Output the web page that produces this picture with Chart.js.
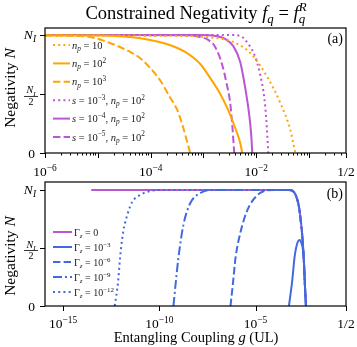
<!DOCTYPE html>
<html><head><meta charset="utf-8">
<script src="https://cdn.jsdelivr.net/npm/chart.js@4"></script>
<style>
html,body{margin:0;padding:0;background:#fff;}
#wrap{position:relative;width:357px;height:347px;overflow:hidden;}
canvas{position:absolute;left:0;}
#ca{top:0;} #cb{top:176px;}
</style></head><body>
<div id="wrap"><canvas id="ca" width="357" height="180"></canvas><canvas id="cb" width="357" height="171"></canvas></div>
<script>
// ---------- Panel (a) data: coupling g and negativity N (units of N_I) ----------
const gA_np10   = [1e-6, 3.6e-4, 1.34e-3, 3.66e-3, 7.69e-3, 1.62e-2, 2.85e-2, 4.41e-2, 5.49e-2];
const NA_np10   = [0.996, 0.992, 0.979, 0.941, 0.847, 0.644, 0.424, 0.195, 0];
const gA_np100  = [1e-6, 1.1e-5, 4.1e-5, 9.8e-5, 2.3e-4, 4.5e-4, 8.7e-4, 1.34e-3, 2.08e-3, 2.94e-3, 4.0e-3, 4.97e-3, 5.43e-3];
const NA_np100  = [0.996, 0.996, 0.983, 0.958, 0.915, 0.856, 0.754, 0.636, 0.500, 0.364, 0.212, 0.085, 0];
const gA_np1000 = [1e-6, 3.0e-6, 7.1e-6, 1.7e-5, 4.1e-5, 6.3e-5, 9.8e-5, 1.5e-4, 2.3e-4, 3.2e-4, 4.0e-4, 4.7e-4, 5.6e-4];
const NA_np1000 = [0.996, 0.994, 0.983, 0.932, 0.856, 0.805, 0.720, 0.619, 0.475, 0.364, 0.237, 0.127, 0];
const gA_s3 = [1e-6, 3.21e-3, 4.97e-3, 7.05e-3, 9.57e-3, 1.19e-2, 1.42e-2, 1.55e-2, 1.69e-2];
const NA_s3 = [1, 1, 0.992, 0.924, 0.814, 0.661, 0.466, 0.280, 0];
const gA_s4 = [1e-6, 8.7e-4, 1.67e-3, 2.58e-3, 3.66e-3, 4.97e-3, 6.18e-3, 7.36e-3, 8.03e-3, 8.39e-3];
const NA_s4 = [1, 1, 0.992, 0.966, 0.907, 0.771, 0.551, 0.322, 0.153, 0];
const gA_s5 = [1e-6, 5.6e-4, 8.7e-4, 1.23e-3, 1.67e-3, 2.27e-3, 2.70e-3, 3.21e-3, 3.51e-3, 3.83e-3];
const NA_s5 = [1, 0.996, 0.983, 0.958, 0.898, 0.746, 0.602, 0.424, 0.237, 0];

// ---------- Panel (b) data ----------
const gB_G0  = [2.9e-14, 5.5e-4, 8.1e-4, 1.21e-3, 1.80e-3, 2.21e-3, 2.70e-3, 3.28e-3, 3.70e-3, 4.17e-3];
const NB_G0  = [1, 1, 0.994, 0.957, 0.856, 0.741, 0.597, 0.371, 0.166, 0];
const gB_G3  = [5.42e-4, 8.1e-4, 1.07e-3, 1.49e-3, 1.96e-3, 2.40e-3, 2.91e-3, 3.28e-3, 3.70e-3, 4.17e-3];
const NB_G3  = [0, 0.224, 0.425, 0.543, 0.569, 0.543, 0.483, 0.371, 0.166, 0];
const gB_G6  = [5.0e-7, 6.8e-7, 9.1e-7, 1.66e-6, 3.8e-6, 1.27e-5, 8.7e-5, 5.5e-4, 8.1e-4, 1.21e-3, 1.80e-3, 2.21e-3, 2.70e-3, 3.28e-3, 3.70e-3, 4.17e-3];
const NB_G6  = [0, 0.207, 0.414, 0.638, 0.828, 0.957, 1, 1, 0.994, 0.957, 0.856, 0.741, 0.597, 0.371, 0.166, 0];
const gB_G9  = [5.4e-10, 7.2e-10, 9.8e-10, 1.78e-9, 4.1e-9, 1.36e-8, 4.5e-8, 5.5e-4, 8.1e-4, 1.21e-3, 1.80e-3, 2.21e-3, 2.70e-3, 3.28e-3, 3.70e-3, 4.17e-3];
const NB_G9  = [0, 0.207, 0.414, 0.698, 0.888, 0.974, 1, 1, 0.994, 0.957, 0.856, 0.741, 0.597, 0.371, 0.166, 0];
const gB_G12 = [4.8e-13, 7.2e-13, 9.1e-13, 1.33e-12, 2.15e-12, 3.9e-12, 1.02e-11, 3.4e-11, 1.6e-10, 5.5e-4, 8.1e-4, 1.21e-3, 1.80e-3, 2.21e-3, 2.70e-3, 3.28e-3, 3.70e-3, 4.17e-3];
const NB_G12 = [0, 0.207, 0.414, 0.638, 0.784, 0.897, 0.957, 0.991, 1, 1, 0.994, 0.957, 0.856, 0.741, 0.597, 0.371, 0.166, 0];

// ---------- tick labels ----------
const xTicksA = [[1e-6, '10', '−6'], [1e-4, '10', '−4'], [1e-2, '10', '−2'], [0.5, '1/2', '']];
const xTicksB = [[1e-15, '10', '−15'], [1e-10, '10', '−10'], [1e-5, '10', '−5'], [0.5, '1/2', '']];

const ORANGE = '#FFA500', MAG = '#BA55D3', BLUE = '#4169E1';
const FAM = '"Liberation Serif","Times New Roman",serif';

function pts(g, n) { return g.map((v, i) => ({x: v, y: n[i]})); }

function rich(ctx, parts, x, y, size, align) {
  const f = p => (p.i ? 'italic ' : '') + (p.s ? (size * 0.7).toFixed(1) : size) + 'px ' + FAM;
  const ws = []; let w = 0;
  for (const p of parts) {
    ctx.font = f(p); let pw = ctx.measureText(p.t).width;
    if (p.st) { ctx.font = f({i: p.sti, s: 'sup'}); pw = Math.max(pw, ctx.measureText(p.st).width); }
    ws.push(pw); w += pw;
  }
  let cx = align === 'center' ? x - w / 2 : align === 'right' ? x - w : x;
  ctx.textAlign = 'left'; ctx.textBaseline = 'alphabetic';
  parts.forEach((p, k) => {
    ctx.font = f(p);
    const dy = p.s === 'sup' ? -size * 0.4 : p.s === 'sub' ? size * 0.22 : 0;
    ctx.fillText(p.t, cx, y + dy);
    if (p.st) { ctx.font = f({i: p.sti, s: 'sup'}); ctx.fillText(p.st, cx, y - size * 0.42); }
    cx += ws[k];
  });
  return w;
}

function frameAndTicks(chart, xTicks, minors, opts) {
  const ctx = chart.ctx, a = chart.chartArea, xs = chart.scales.x, ys = chart.scales.y;
  ctx.save();
  ctx.strokeStyle = '#000'; ctx.lineWidth = 1.2; ctx.setLineDash([]);
  ctx.strokeRect(a.left, a.top, a.right - a.left, a.bottom - a.top);
  ctx.lineWidth = 1;
  ctx.beginPath();
  for (const v of opts.majors) { const px = Math.round(xs.getPixelForValue(v)) + 0.5; ctx.moveTo(px, a.bottom); ctx.lineTo(px, a.bottom + 5); }
  for (const v of minors) { const px = Math.round(xs.getPixelForValue(v)) + 0.5; ctx.moveTo(px, a.bottom); ctx.lineTo(px, a.bottom + 2.5); }
  for (const v of [0, 0.5, 1]) { const py = Math.round(ys.getPixelForValue(v)) + 0.5; ctx.moveTo(a.left, py); ctx.lineTo(a.left - 5, py); }
  ctx.stroke();
  ctx.fillStyle = '#000';
  for (const [v, base, ex] of xTicks) {
    const px = xs.getPixelForValue(v);
    if (ex) rich(ctx, [{t: base}, {t: ex, s: 'sup'}], px, a.bottom + opts.xlabOff, 13.5, 'center');
    else rich(ctx, [{t: base}], px, a.bottom + opts.xlabOff, 13.5, 'center');
  }
  const y1 = ys.getPixelForValue(1), yh = ys.getPixelForValue(0.5), y0 = ys.getPixelForValue(0);
  rich(ctx, [{t: 'N', i: 1}, {t: 'I', i: 1, s: 'sub'}], 36, y1 + 4, 13.5, 'right');
  rich(ctx, [{t: '0'}], 35, y0 + 4.5, 13.5, 'right');
  rich(ctx, [{t: 'N', i: 1}, {t: 'I', i: 1, s: 'sub'}], 31, yh - 0.5, 10, 'center');
  ctx.beginPath(); ctx.moveTo(24, yh + 2.5); ctx.lineTo(38, yh + 2.5); ctx.lineWidth = 0.8; ctx.stroke();
  rich(ctx, [{t: '2'}], 31, yh + 11, 10, 'center');
  ctx.save(); ctx.translate(15, opts.yTitleC); ctx.rotate(-Math.PI / 2);
  rich(ctx, [{t: 'Negativity '}, {t: 'N', i: 1}], 0, 0, 15.5, 'center');
  ctx.restore();
  rich(ctx, [{t: opts.panel}], a.right - 3, a.top + opts.panelOff, 14, 'right');
  opts.legend.forEach((L, k) => {
    const y = opts.legY + k * opts.legDy;
    ctx.beginPath(); ctx.strokeStyle = L.c; ctx.lineWidth = 2; ctx.setLineDash(L.d || []);
    ctx.moveTo(opts.legX1, y); ctx.lineTo(opts.legX2, y); ctx.stroke();
    ctx.setLineDash([]);
    ctx.fillStyle = '#222';
    rich(ctx, L.t, opts.legX2 + 2, y + 3.5, opts.legSize, 'left');
  });
  ctx.restore();
}

function minorTicks(from, to) {
  const out = [];
  for (let k = from; k <= to; k++) for (let m = 2; m <= 9; m++) { const v = m * Math.pow(10, k); if (v < 0.5) out.push(v); }
  return out;
}

const DOT = [2, 3.2], DASH = [7.4, 3.2], DASHDOT = [9, 3, 2, 3];

function makeChart(id, datasets, xmin, ymax, padding, plugin) {
  return new Chart(document.getElementById(id), {
    type: 'line',
    data: {datasets},
    options: {
      responsive: false, animation: false, devicePixelRatio: 1,
      layout: {padding},
      plugins: {legend: {display: false}, tooltip: {enabled: false}},
      scales: {
        x: {type: 'logarithmic', min: xmin, max: 0.5, display: false},
        y: {type: 'linear', min: 0, max: ymax, display: false}
      },
      elements: {point: {radius: 0}, line: {borderWidth: 2, cubicInterpolationMode: 'monotone', fill: false}}
    },
    plugins: [plugin]
  });
}

const sub = (t) => ({t, i: 1, s: 'sub'});
const sup = (t) => ({t, s: 'sup'});

// ---------- Panel (a) ----------
const legA = [
  {c: ORANGE, d: DOT, t: [{t: 'n', i: 1}, sub('p'), {t: ' = 10'}]},
  {c: ORANGE, d: [], t: [{t: 'n', i: 1}, sub('p'), {t: ' = 10'}, sup('2')]},
  {c: ORANGE, d: DASH, t: [{t: 'n', i: 1}, sub('p'), {t: ' = 10'}, sup('3')]},
  {c: MAG, d: DOT, t: [{t: 's', i: 1}, {t: ' = 10'}, sup('−3'), {t: ', '}, {t: 'n', i: 1}, sub('p'), {t: ' = 10'}, sup('2')]},
  {c: MAG, d: [], t: [{t: 's', i: 1}, {t: ' = 10'}, sup('−4'), {t: ', '}, {t: 'n', i: 1}, sub('p'), {t: ' = 10'}, sup('2')]},
  {c: MAG, d: DASH, t: [{t: 's', i: 1}, {t: ' = 10'}, sup('−5'), {t: ', '}, {t: 'n', i: 1}, sub('p'), {t: ' = 10'}, sup('2')]}
];
const majorsA = [1e-6, 1e-5, 1e-4, 1e-3, 1e-2, 1e-1, 0.5];
makeChart('ca', [
  {data: pts(gA_np10, NA_np10), borderColor: ORANGE, borderDash: DOT},
  {data: pts(gA_np100, NA_np100), borderColor: ORANGE},
  {data: pts(gA_np1000, NA_np1000), borderColor: ORANGE, borderDash: DASH},
  {data: pts(gA_s3, NA_s3), borderColor: MAG, borderDash: DOT},
  {data: pts(gA_s4, NA_s4), borderColor: MAG},
  {data: pts(gA_s5, NA_s5), borderColor: MAG, borderDash: DASH}
], 1e-6, 1.059, {left: 45, right: 11, top: 28, bottom: 27}, {
  id: 'decoA',
  afterDraw(chart) {
    frameAndTicks(chart, xTicksA, minorTicks(-6, -1), {majors: majorsA, xlabOff: 23, yTitleC: 88, panel: '(a)', panelOff: 15,
      legend: legA, legY: 45, legDy: 18.4, legX1: 53, legX2: 70, legSize: 10.5});
    const ctx = chart.ctx; ctx.save(); ctx.fillStyle = '#000';
    rich(ctx, [{t: 'Constrained Negativity '}, {t: 'f', i: 1}, {t: 'q', i: 1, s: 'sub'}, {t: ' = '}, {t: 'f', i: 1}, {t: 'q', i: 1, s: 'sub', st: 'R', sti: 1}], 196, 18.5, 18.5, 'center');
    ctx.restore();
  }
});

// ---------- Panel (b) ----------
const legB = [
  {c: MAG, d: [], t: [{t: 'Γ'}, sub('z'), {t: ' = 0'}]},
  {c: BLUE, d: [], t: [{t: 'Γ'}, sub('z'), {t: ' = 10'}, sup('−3')]},
  {c: BLUE, d: DASH, t: [{t: 'Γ'}, sub('z'), {t: ' = 10'}, sup('−6')]},
  {c: BLUE, d: DASHDOT, t: [{t: 'Γ'}, sub('z'), {t: ' = 10'}, sup('−9')]},
  {c: BLUE, d: DOT, t: [{t: 'Γ'}, sub('z'), {t: ' = 10'}, sup('−12')]}
];
makeChart('cb', [
  {data: pts(gB_G3, NB_G3), borderColor: BLUE},
  {data: pts(gB_G6, NB_G6), borderColor: BLUE, borderDash: DASH},
  {data: pts(gB_G9, NB_G9), borderColor: BLUE, borderDash: DASHDOT},
  {data: pts(gB_G12, NB_G12), borderColor: BLUE, borderDash: DOT},
  {data: pts(gB_G0, NB_G0), borderColor: MAG}
], 1.15e-16, 1.069, {left: 45, right: 11, top: 6, bottom: 41}, {
  id: 'decoB',
  afterDraw(chart) {
    frameAndTicks(chart, xTicksB, [], {majors: [1e-15, 1e-10, 1e-5, 0.5], xlabOff: 22, yTitleC: 80, panel: '(b)', panelOff: 16,
      legend: legB, legY: 56, legDy: 15, legX1: 53, legX2: 72, legSize: 10});
    const ctx = chart.ctx; ctx.save(); ctx.fillStyle = '#000';
    rich(ctx, [{t: 'Entangling Coupling '}, {t: 'g', i: 1}, {t: ' (UL)'}], 196, 166, 14.5, 'center');
    ctx.restore();
  }
});
</script>
</body></html>
